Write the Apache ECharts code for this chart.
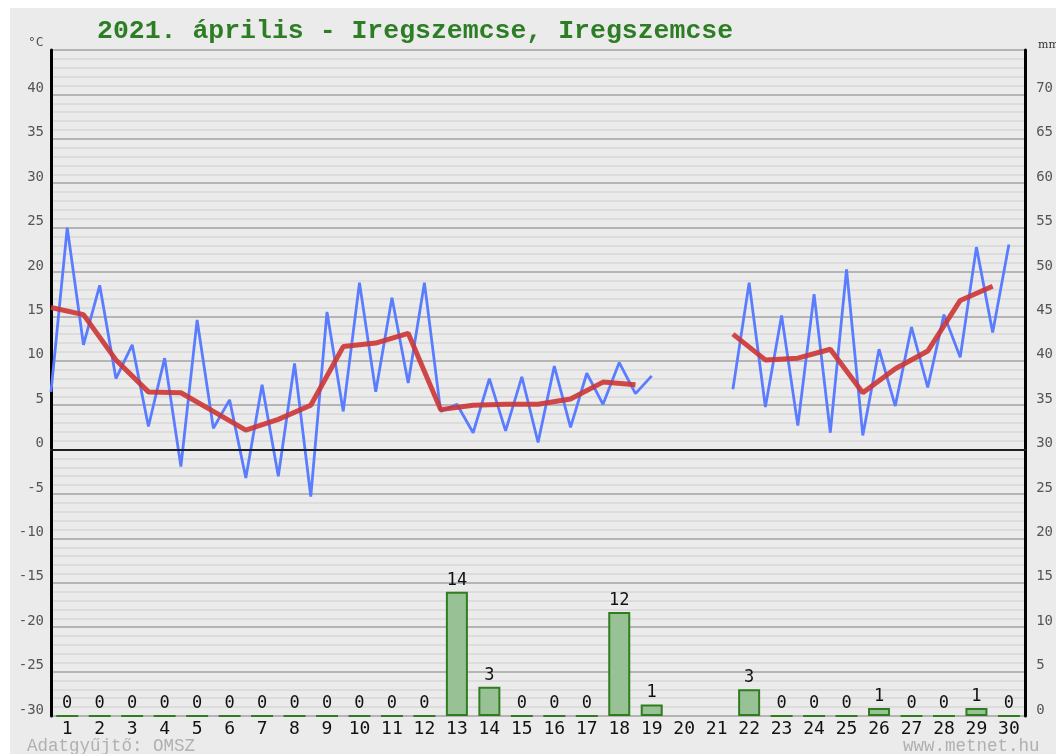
<!DOCTYPE html>
<html>
<head>
<meta charset="utf-8">
<script src="https://cdn.jsdelivr.net/npm/echarts@6/dist/echarts.min.js"></script>
<style>
  html, body { margin: 0; padding: 0; background: #fff; }
  #chart { position: absolute; left: 10px; top: 8px; width: 1046px; height: 746px; background: #ebebeb; }
</style>
</head>
<body>
<div id="chart"></div>
<script>
// napok
const days = ['1','2','3','4','5','6','7','8','9','10','11','12','13','14','15',
  '16','17','18','19','20','21','22','23','24','25','26','27','28','29','30'];

// félnapos hőmérséklet (°C), 0:00 és 12:00
const tempHalfDay = [
  6.5, 25.0, 11.8, 18.5, 8.0, 11.8, 2.6, 10.3, -1.9, 14.6,
  2.4, 5.6, -3.2, 7.3, -3.0, 9.7, -5.3, 15.5, 4.3, 18.8,
  6.5, 17.1, 7.5, 18.8, 4.3, 5.1, 1.9, 8.0, 2.1, 8.2,
  0.8, 9.4, 2.5, 8.6, 5.1, 9.8, 6.3, 8.3, null, null,
  null, null, 6.8, 18.8, 4.8, 15.1, 2.7, 17.5, 1.9, 20.3,
  1.6, 11.3, 4.9, 13.8, 7.0, 15.2, 10.4, 22.8, 13.2, 23.1
];

// napi középhőmérséklet (°C)
const tempDailyMean = [
  16.0, 15.2, 10.1, 6.5, 6.4, 4.3, 2.2, 3.4, 5.0, 11.6,
  12.0, 13.1, 4.5, 5.0, 5.1, 5.1, 5.7, 7.6, 7.3, null,
  null, 13.0, 10.1, 10.3, 11.3, 6.4, 9.1, 11.1, 16.8, 18.4
];

// csapadék (mm)
const precip = [
  0, 0, 0, 0, 0, 0, 0, 0, 0, 0,
  0, 0, 14.0, 3.3, 0, 0, 0, 11.7, 1.3, null,
  null, 3.0, 0, 0, 0, 0.9, 0, 0, 0.9, 0
];

const labelFont = 'DejaVu Sans Mono';
let chart = echarts.init(document.getElementById('chart'));
let option = {
  animation: false,
  title: {
    text: '2021. április - Iregszemcse, Iregszemcse',
    left: 82,
    top: 5,
    textStyle: { fontFamily: 'Liberation Mono', fontSize: 26.5, fontWeight: 'bold', color: '#2d7d24' }
  },
  graphic: [
    { type: 'text', left: 18, top: 28, style: { text: '°C', fontFamily: labelFont, fontSize: 13, fill: '#555' } },
    { type: 'text', left: 1028, top: 32, style: { text: 'mm', fontFamily: 'DejaVu Serif', fontSize: 11, fill: '#333' } },
    { type: 'text', left: 17, top: 729, style: { text: 'Adatgyűjtő: OMSZ', fontFamily: 'Liberation Mono', fontSize: 17.5, fill: '#b0b0b0' } },
    { type: 'text', left: 893, top: 729, style: { text: 'www.metnet.hu', fontFamily: 'Liberation Mono', fontSize: 17.5, fill: '#b0b0b0' } }
  ],
  grid: { left: 41, right: 25, top: 42, bottom: 38 },
  xAxis: [{
    type: 'category',
    data: days,
    boundaryGap: true,
    axisTick: { show: false },
    axisLine: { lineStyle: { color: '#666', width: 1.5 } },
    axisLabel: { color: '#111', fontFamily: labelFont, fontSize: 18, margin: 4, interval: 0 }
  }, {
    type: 'value',
    min: 0,
    max: 30,
    show: false
  }],
  yAxis: [{
    type: 'value',
    position: 'left',
    min: -30,
    max: 45,
    interval: 5,
    axisLine: { show: true, lineStyle: { color: '#000', width: 3 } },
    axisTick: { show: false },
    axisLabel: {
      color: '#555', fontFamily: labelFont, fontSize: 14, margin: 7,
      verticalAlign: 'bottom', lineHeight: 12,
      formatter: v => v === 45 ? '' : v
    },
    splitLine: { lineStyle: { color: '#a3a3a3', width: 1.5 } },
    minorTick: { show: false, splitNumber: 5 },
    minorSplitLine: { show: true, lineStyle: { color: '#d8d8d8', width: 1.5 } }
  }, {
    type: 'value',
    position: 'right',
    min: 0,
    max: 75,
    interval: 5,
    axisLine: { show: true, lineStyle: { color: '#000', width: 3 } },
    axisTick: { show: false },
    splitLine: { show: false },
    axisLabel: {
      color: '#555', fontFamily: labelFont, fontSize: 14, margin: 11, align: 'left',
      verticalAlign: 'bottom', lineHeight: 12,
      formatter: v => v === 75 ? '' : v
    }
  }],
  series: [{
    name: 'csapadék',
    type: 'bar',
    xAxisIndex: 0,
    yAxisIndex: 1,
    data: precip,
    barWidth: 22,
    itemStyle: { color: '#98c196', borderColor: '#2f7d1f', borderWidth: 2 },
    label: {
      show: true,
      position: 'top',
      distance: 3,
      color: '#111',
      fontFamily: labelFont,
      fontSize: 17,
      formatter: p => Math.round(p.value)
    }
  }, {
    name: 'hőmérséklet',
    type: 'line',
    xAxisIndex: 1,
    yAxisIndex: 0,
    data: tempHalfDay.map((v, i) => [i / 2, v]),
    showSymbol: false,
    connectNulls: false,
    lineStyle: { color: '#5a7dff', width: 2.8 },
    markLine: {
      silent: true,
      symbol: 'none',
      label: { show: false },
      lineStyle: { color: '#000', width: 1.5, type: 'solid' },
      data: [{ yAxis: 0 }]
    }
  }, {
    name: 'középhőmérséklet',
    type: 'line',
    xAxisIndex: 1,
    yAxisIndex: 0,
    data: tempDailyMean.map((v, i) => [i, v]),
    showSymbol: false,
    connectNulls: false,
    lineStyle: { color: '#cc3535', width: 5, opacity: 0.9 }
  }]
};
chart.setOption(option);
</script>
</body>
</html>
